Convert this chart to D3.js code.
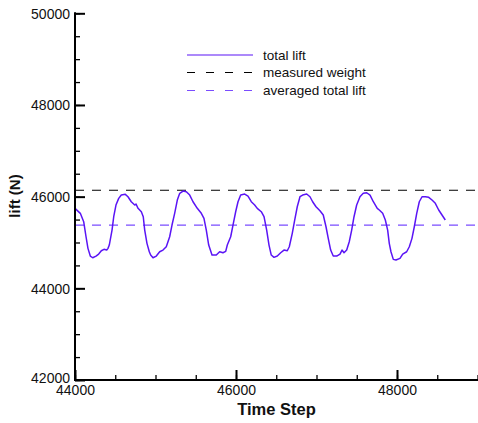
<!DOCTYPE html>
<html><head><meta charset="utf-8">
<script src="https://cdn.jsdelivr.net/npm/d3@7"></script>
<style>body{margin:0;background:#fff;} svg{display:block;font-family:"Liberation Sans",Arial,sans-serif;}</style>
</head><body>
<svg id="c" width="478" height="423"></svg>
<script>
const timeSteps = [44000,44066,44108,44137,44161,44190,44220,44261,44294,44327,44360,44394,44410,44426,44460,44481,44509,44543,44575,44625,44658,44699,44742,44758,44783,44824,44848,44866,44894,44923,
44940,44969,45010,45052,45093,45134,45176,45205,45238,45271,45301,45342,45383,45425,45466,45519,45569,45602,45631,45661,45702,45755,45797,45838,45872,
45892,45934,45967,45996,46025,46058,46108,46149,46190,46232,46264,46314,46348,46381,46410,46438,46472,46513,46555,46596,46637,46662,46699,46729,46761,46795,
46828,46878,46919,46952,46994,47043,47084,47118,47146,47176,47208,47251,47292,47317,47342,47375,47407,47437,47466,47499,47540,47581,47624,47665,47706,47755,
47780,47822,47855,47884,47904,47925,47954,47987,48037,48071,48120,48153,48186,48215,48245,48277,48311,48352,48394,48435,48476,48518,48559,48600];
const totalLift = [45745,45636,45453,45125,44872,44704,44667,44704,44748,44820,44851,44835,44872,44944,45271,45562,45817,45963,46035,46050,45998,45889,45817,45839,45745,45671,45562,45271,44981,44798,
44726,44667,44704,44798,44835,44907,45125,45381,45636,45926,46072,46122,46107,46035,45889,45745,45636,45527,45271,44944,44726,44726,44798,44776,44807,
44944,45125,45418,45671,45889,46035,46057,46013,45889,45817,45745,45671,45562,45271,44944,44726,44676,44704,44776,44835,44820,44907,45200,45490,45780,45998,
46035,46057,45998,45889,45780,45692,45599,45343,45090,44835,44704,44704,44748,44835,44776,44835,45016,45271,45562,45817,45998,46072,46085,46035,45889,45745,
45708,45636,45490,45271,44981,44798,44632,44617,44654,44748,44798,44907,45090,45343,45636,45889,45998,45998,45985,45926,45854,45708,45599,45490];
const measuredWeight = 46140;
const averagedLift = 45380;
const xMajorTicks = [44000,46000,48000];
const yMajorTicks = [42000,44000,46000,48000,50000];
const legendLabels = ["total lift","measured weight","averaged total lift"];

const svg = d3.select("#c");
const x = d3.scaleLinear().domain([44000,49000]).range([75,477.5]);
const y = d3.scaleLinear().domain([42000,50000]).range([380,13.3]);
const lineCol = "#5a14f5", avgCol = "#7a4cff";

// horizontal reference lines
svg.append("line").attr("x1",x(44000)).attr("x2",x(49000)).attr("y1",y(measuredWeight)).attr("y2",y(measuredWeight))
  .attr("stroke","#000").attr("stroke-width",1.2).attr("stroke-dasharray","9,8");
svg.append("line").attr("x1",x(44000)).attr("x2",x(49000)).attr("y1",y(averagedLift)).attr("y2",y(averagedLift))
  .attr("stroke",avgCol).attr("stroke-width",1.2).attr("stroke-dasharray","9,8");

// data line
const data = timeSteps.map((t,i)=>[t,totalLift[i]]);
svg.append("path").datum(data).attr("fill","none").attr("stroke",lineCol).attr("stroke-width",1.5)
  .attr("stroke-linejoin","round")
  .attr("d",d3.line().x(d=>x(d[0])).y(d=>y(d[1])));

// axes
const yMinor = d3.range(42000,50001,500);
const xMinor = d3.range(44000,49001,500);
const ya = svg.append("g").attr("transform","translate(75,0)");
ya.call(d3.axisLeft(y).tickValues(yMinor).tickSize(-5).tickFormat(""));
ya.select(".domain").remove();
ya.selectAll(".tick line").attr("stroke","#000").attr("stroke-width",1.3);
const ya2 = svg.append("g").attr("transform","translate(75,0)");
ya2.call(d3.axisLeft(y).tickValues(yMajorTicks).tickSize(-10).tickFormat(d3.format("d")));
ya2.select(".domain").remove();
ya2.selectAll(".tick line").attr("stroke","#000").attr("stroke-width",2);
ya2.selectAll(".tick text").attr("font-size",14).attr("fill","#111").attr("font-family","Liberation Sans, Arial").attr("dy","0.35em").attr("x",-5);
ya2.selectAll(".tick").filter(d=>d===42000).select("text").attr("dy","0.2em");

const xa = svg.append("g").attr("transform","translate(0,380)");
xa.call(d3.axisBottom(x).tickValues(xMinor).tickSize(-5).tickFormat(""));
xa.select(".domain").remove();
xa.selectAll(".tick line").attr("stroke","#000").attr("stroke-width",1.3);
const xa2 = svg.append("g").attr("transform","translate(0,380)");
xa2.call(d3.axisBottom(x).tickValues(xMajorTicks).tickSize(-10).tickFormat(d3.format("d")));
xa2.select(".domain").remove();
xa2.selectAll(".tick line").attr("stroke","#000").attr("stroke-width",2);
xa2.selectAll(".tick text").attr("font-size",14).attr("fill","#111").attr("font-family","Liberation Sans, Arial").attr("y",5.5).attr("dy","0.71em");

// axis lines
svg.append("line").attr("x1",75).attr("x2",75).attr("y1",y(50000)-1).attr("y2",381).attr("stroke","#000").attr("stroke-width",2);
svg.append("line").attr("x1",74).attr("x2",478).attr("y1",380).attr("y2",380).attr("stroke","#000").attr("stroke-width",2);

// titles
svg.append("text").attr("x",(75+478)/2).attr("y",415).attr("text-anchor","middle")
  .attr("font-size",16.5).attr("font-weight","bold").attr("fill","#111").text("Time Step");
svg.append("text").attr("transform","translate(20,196) rotate(-90)").attr("text-anchor","middle")
  .attr("font-size",15).attr("font-weight","bold").attr("fill","#111").text("lift (N)");

// legend
const rows = [55,72.5,90.5];
const styles = [{c:lineCol,d:null},{c:"#000",d:"8,11"},{c:avgCol,d:"8,11"}];
legendLabels.forEach((lab,i)=>{
  const l = svg.append("line").attr("x1",187).attr("x2",253).attr("y1",rows[i]).attr("y2",rows[i])
    .attr("stroke",styles[i].c).attr("stroke-width",1.2);
  if(styles[i].d) l.attr("stroke-dasharray",styles[i].d);
  svg.append("text").attr("x",263).attr("y",rows[i]).attr("dy","0.35em").attr("font-size",13.5).attr("fill","#111").text(lab);
});
</script>
</body></html>
